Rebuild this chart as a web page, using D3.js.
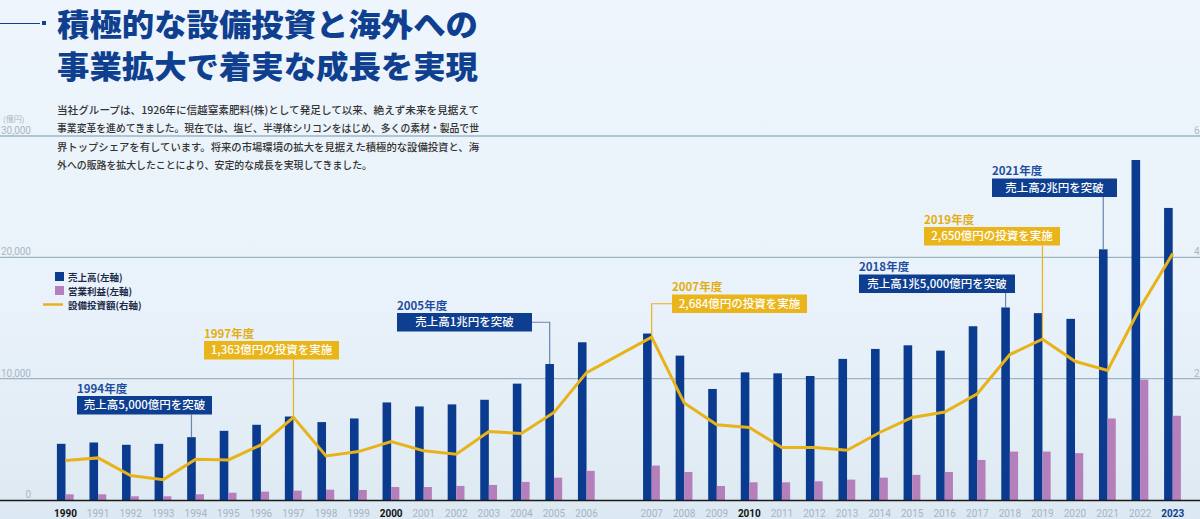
<!DOCTYPE html>
<html><head><meta charset="utf-8">
<script src="https://cdn.jsdelivr.net/npm/d3@7/dist/d3.min.js"></script>
<style>
html,body{margin:0;padding:0;background:#eef5fb;}
svg{display:block;font-family:"Noto Sans CJK JP","Noto Sans",sans-serif;}
</style></head>
<body>
<svg id="chart" width="1200" height="519"></svg>
<script>
// ---- data ----
const years = [1990,1991,1992,1993,1994,1995,1996,1997,1998,1999,2000,2001,2002,2003,2004,2005,2006,
               2007,2008,2009,2010,2011,2012,2013,2014,2015,2016,2017,2018,2019,2020,2021,2022,2023];
// 売上高 (億円, 左軸)
const sales = [4630,4740,4550,4630,5180,5700,6200,6880,6420,6720,8040,7710,7880,8260,9590,11210,13000,
               13720,11900,9150,10520,10440,10220,11630,12450,12750,12310,14320,15870,15400,14930,20660,28020,24070];
// 営業利益 (億円, 左軸)
const opProfit = [470,470,305,305,470,600,690,770,850,830,1070,1070,1160,1240,1490,1840,2400,
                  2840,2310,1160,1460,1460,1540,1680,1840,2070,2310,3300,3990,3990,3860,6720,9920,6940];
// 設備投資額 (億円, 右軸)
const capex = [650,694,402,336,672,661,909,1363,727,798,964,810,755,1129,1096,1443,2099,
               2684,1598,1240,1195,865,865,821,1113,1361,1449,1752,2397,2650,2286,2137,3169,4061];
const leftTicks = [0,10000,20000,30000];
const leftTickLabels = ["0","10,000","20,000","30,000"];
const rightTicks = [2000,4000,6000];
const rightTickLabels = ["2,000","4,000","6,000"];
const boldYears = [1990,2000,2010];
const highlightYear = 2023;
const titleLines = ["積極的な設備投資と海外への","事業拡大で着実な成長を実現"];
const bodyLines = [
  "当社グループは、1926年に信越窒素肥料(株)として発足して以来、絶えず未来を見据えて",
  "事業変革を進めてきました。現在では、塩ビ、半導体シリコンをはじめ、多くの素材・製品で世",
  "界トップシェアを有しています。将来の市場環境の拡大を見据えた積極的な設備投資と、海",
  "外への販路を拡大したことにより、安定的な成長を実現してきました。"
];
const legendItems = ["売上高(左軸)","営業利益(左軸)","設備投資額(右軸)"];
// annotations: year, series, heading, box text
const notes = [
  {year:1994, series:"sales", head:"1994年度", text:"売上高5,000億円を突破"},
  {year:1997, series:"capex", head:"1997年度", text:"1,363億円の投資を実施"},
  {year:2005, series:"sales", head:"2005年度", text:"売上高1兆円を突破"},
  {year:2007, series:"capex", head:"2007年度", text:"2,684億円の投資を実施"},
  {year:2018, series:"sales", head:"2018年度", text:"売上高1兆5,000億円を突破"},
  {year:2019, series:"capex", head:"2019年度", text:"2,650億円の投資を実施"},
  {year:2021, series:"sales", head:"2021年度", text:"売上高2兆円を突破"}
];
// layout for the annotation boxes (x, top of box, width, leader type)
const noteLayout = {
  1994:{x:77, y:396, w:135, leader:"down"},
  1997:{x:204, y:341, w:135, leader:"down"},
  2005:{x:397, y:313, w:135, leader:"right"},
  2007:{x:672, y:294.5, w:135, leader:"left"},
  2018:{x:859, y:274.5, w:156, leader:"down"},
  2019:{x:924, y:227, w:136, leader:"down"},
  2021:{x:992, y:178.5, w:125, leader:"down"}
};

// ---- colours ----
const BLUE="#0b3b8f", PINK="#b47fba", GOLD="#e8b319", NAVY="#0f3f8f";

const svg = d3.select("#chart");
const W=1200,H=519;

// background
const defs = svg.append("defs");
const g1 = defs.append("linearGradient").attr("id","bg").attr("x1",0).attr("y1",0).attr("x2",0).attr("y2",1);
g1.append("stop").attr("offset","0%").attr("stop-color","#eef5fc");
g1.append("stop").attr("offset","60%").attr("stop-color","#e9f2fa");
g1.append("stop").attr("offset","100%").attr("stop-color","#dde9f2");
svg.append("rect").attr("width",W).attr("height",H).attr("fill","url(#bg)");

// scales
const slots = years.slice(0,17).map(String).concat(["gap"]).concat(years.slice(17).map(String));
const x = d3.scalePoint().domain(slots).range([65.5,1172.7]);
const yL = d3.scaleLinear().domain([0,30000]).range([500,136]);
const yR = d3.scaleLinear().domain([0,6000]).range([500,136]);
const BW=8.6, PW=8.2;

// grid lines
svg.append("g").selectAll("line").data(leftTicks.filter(d=>d>0)).join("line")
  .attr("x1",0).attr("x2",W).attr("y1",d=>yL(d)).attr("y2",d=>yL(d))
  .attr("stroke","#9db5c3").attr("stroke-width",1.3);

// left tick labels
svg.append("g").selectAll("text").data(leftTicks).join("text")
  .attr("x",31).attr("y",d=>yL(d)-2).attr("text-anchor","end")
  .attr("font-size",10).attr("fill","#a9b8c4").attr("font-family","Roboto, 'Noto Sans', sans-serif")
  .text((d,i)=>leftTickLabels[i]);
svg.append("text").attr("x",3).attr("y",122).attr("font-size",8).attr("fill","#a9b8c4").text("(億円)");
// right tick labels (cut at edge)
svg.append("g").selectAll("text").data(rightTicks).join("text")
  .attr("x",1194).attr("y",d=>yR(d)-2).attr("text-anchor","start")
  .attr("font-size",10).attr("fill","#a9b8c4").attr("font-family","Roboto, 'Noto Sans', sans-serif")
  .text((d,i)=>rightTickLabels[i]);

// bars
svg.append("g").selectAll("rect").data(years).join("rect")
  .attr("x",d=>x(String(d))-BW).attr("width",BW)
  .attr("y",(d,i)=>yL(sales[i])).attr("height",(d,i)=>yL(0)-yL(sales[i]))
  .attr("fill",BLUE);
svg.append("g").selectAll("rect").data(years).join("rect")
  .attr("x",d=>x(String(d))).attr("width",PW)
  .attr("y",(d,i)=>yL(opProfit[i])).attr("height",(d,i)=>yL(0)-yL(opProfit[i]))
  .attr("fill",PINK);

// baseline
svg.append("line").attr("x1",0).attr("x2",W).attr("y1",yL(0)+0.5).attr("y2",yL(0)+0.5)
  .attr("stroke","#1a1a1a").attr("stroke-width",1.5);

// capex line
const line = d3.line().x((d,i)=>x(String(years[i]))).y(d=>yR(d));
svg.append("path").datum(capex).attr("d",line).attr("fill","none")
  .attr("stroke",GOLD).attr("stroke-width",3).attr("stroke-linejoin","miter");

// x labels
svg.append("g").selectAll("text").data(years).join("text")
  .attr("x",d=>x(String(d))).attr("y",517).attr("text-anchor","middle")
  .attr("font-family","Roboto, 'Noto Sans', sans-serif")
  .attr("font-size",10)
  .attr("font-weight",d=>(boldYears.includes(d)||d===highlightYear)?700:400)
  .attr("fill",d=>d===highlightYear?NAVY:(boldYears.includes(d)?"#111":"#a6b5c2"))
  .text(d=>d);

// title
svg.append("line").attr("x1",0).attr("x2",40).attr("y1",23.5).attr("y2",23.5).attr("stroke",NAVY).attr("stroke-width",1.2);
svg.append("rect").attr("x",42).attr("y",21).attr("width",4).attr("height",4).attr("fill",NAVY);
svg.append("g").selectAll("text").data(titleLines).join("text")
  .attr("x",57).attr("y",(d,i)=>35.5+i*42).attr("font-size",31).attr("font-weight",900)
  .attr("fill",NAVY).attr("textLength",421).attr("lengthAdjust","spacingAndGlyphs")
  .text(d=>d);
// body text
svg.append("g").selectAll("text").data(bodyLines).join("text")
  .attr("x",57).attr("y",(d,i)=>114+i*18.3).attr("font-size",10.4).attr("font-weight",500)
  .attr("fill","#333").attr("textLength",(d,i)=>i<3?422:315).attr("lengthAdjust","spacingAndGlyphs")
  .text(d=>d);

// legend
const lg = svg.append("g");
lg.append("rect").attr("x",55).attr("y",272).attr("width",9).attr("height",9).attr("fill",BLUE);
lg.append("rect").attr("x",55).attr("y",286).attr("width",9).attr("height",9).attr("fill",PINK);
lg.append("line").attr("x1",43).attr("x2",63).attr("y1",304.5).attr("y2",304.5).attr("stroke",GOLD).attr("stroke-width",2.5);
lg.selectAll("text").data(legendItems).join("text")
  .attr("x",68).attr("y",(d,i)=>280.5+i*14).attr("font-size",9.5).attr("font-weight",700)
  .attr("fill","#1c2a48").text(d=>d);

// annotations
const BH=18.5;
notes.forEach(n=>{
  const L = noteLayout[n.year];
  const idx = years.indexOf(n.year);
  const isCap = n.series==="capex";
  const col = isCap?GOLD:BLUE;
  const fill = isCap?"#e9b51a":"#0d3e90";
  const headCol = isCap?"#e3ad10":"#1e4f9e";
  const tx = isCap ? x(String(n.year)) : x(String(n.year))-BW/2;
  const ty = isCap ? yR(capex[idx]) : yL(sales[idx]);
  const g = svg.append("g");
  let pts;
  if(L.leader==="down") pts=[[tx,L.y+BH],[tx,ty]];
  else if(L.leader==="right") pts=[[L.x+L.w,L.y+BH/2],[tx,L.y+BH/2],[tx,ty]];
  else pts=[[L.x,L.y+BH/2],[tx,L.y+BH/2],[tx,ty]];
  g.append("path").attr("d",d3.line()(pts)).attr("fill","none")
    .attr("stroke",isCap?GOLD:"#6a85ae").attr("stroke-width",1.2);
  g.append("rect").attr("x",L.x).attr("y",L.y).attr("width",L.w).attr("height",BH).attr("fill",fill);
  g.append("text").attr("x",L.x+L.w/2).attr("y",L.y+13.4).attr("text-anchor","middle")
    .attr("font-size",11.5).attr("font-weight",500).attr("fill","#fff").text(n.text);
  g.append("text").attr("x",L.x).attr("y",L.y-3.5)
    .attr("font-size",11.5).attr("font-weight",700).attr("fill",headCol).text(n.head);
});
</script>
</body></html>
